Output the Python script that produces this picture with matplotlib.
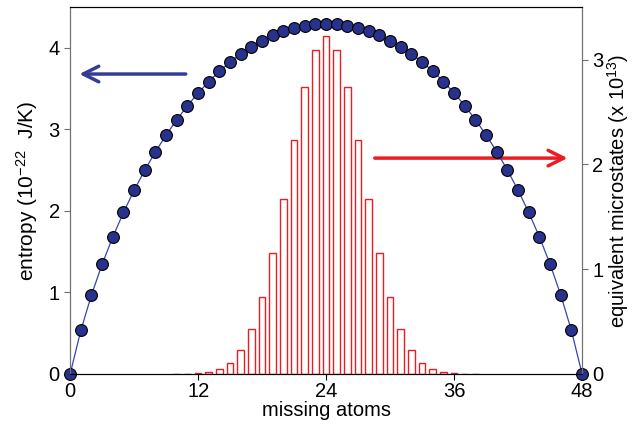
import matplotlib
matplotlib.use('Agg')
import matplotlib.pyplot as plt

plt.rcParams['font.family'] = ['Liberation Sans', 'DejaVu Sans']
plt.rcParams['mathtext.default'] = 'regular'

# atomi mancanti: 0..48
n_atoms = list(range(0, 49))

# entropia (10^-22 J/K), 0..24, poi simmetrica
entropy_half = [0.000, 0.534, 0.970, 1.347, 1.681, 1.982, 2.254, 2.501, 2.727,
                2.932, 3.120, 3.292, 3.447, 3.588, 3.714, 3.827, 3.927, 4.015,
                4.089, 4.153, 4.204, 4.243, 4.272, 4.289, 4.294]
entropy = entropy_half + entropy_half[-2::-1]

# microstati equivalenti (x 10^13), barre da 10 a 38
bar_n = list(range(10, 39))
micro_half = [0.0007, 0.0023, 0.0070, 0.0193, 0.0482, 0.1093, 0.2255, 0.4244,
              0.7310, 1.1542, 1.6736, 2.2314, 2.7386, 3.0958, 3.2248]
microstates = micro_half + micro_half[-2::-1]

blue_dot = '#28328c'
blue_line = '#3646b0'
red = '#ec1c24'

fig = plt.figure(figsize=(6.32, 4.24), dpi=100)
ax1 = fig.add_axes([0.111, 0.118, 0.810, 0.865])
ax2 = ax1.twinx()

# barre sull'asse destro
ax2.bar(bar_n, microstates, width=0.62, facecolor='white', edgecolor=red, linewidth=1.0)
ax2.set_ylim(0, 3.5)
ax2.set_yticks([0, 1, 2, 3])
ax2.set_ylabel('equivalent microstates (x 10$^{13}$)', fontsize=14.5, labelpad=1)

# entropia sull'asse sinistro
ax1.set_zorder(ax2.get_zorder() + 1)
ax1.patch.set_visible(False)
ax1.plot(n_atoms, entropy, color=blue_line, linewidth=0.9, marker='o', markersize=8.5,
         markerfacecolor=blue_dot, markeredgecolor='black', markeredgewidth=0.8, clip_on=False)
ax1.set_xlim(0, 48)
ax1.set_ylim(0, 4.5)
ax1.set_xticks([0, 12, 24, 36, 48])
ax1.set_yticks([0, 1, 2, 3, 4])
ax1.set_xlabel('missing atoms', fontsize=14.5, labelpad=0)
ax1.set_ylabel('entropy (10$^{-22}$  J/K)', fontsize=15, labelpad=6)

# frecce
ax1.annotate('', xy=(0.6, 3.68), xytext=(11.1, 3.68),
             arrowprops=dict(arrowstyle='->', color='#353c96', lw=2.5, mutation_scale=28))
ax2.annotate('', xy=(46.9, 2.06), xytext=(28.3, 2.06),
             arrowprops=dict(arrowstyle='->', color=red, lw=2.5, mutation_scale=28))

# assi
for ax in (ax1, ax2):
    ax.spines['left'].set_color('#707070')
    ax.spines['right'].set_color('#707070')
    ax.spines['top'].set_color('black')
    ax.spines['bottom'].set_color('black')
ax1.tick_params(axis='y', colors='#707070', labelcolor='black', labelsize=14.5, length=4)
ax2.tick_params(axis='y', colors='#707070', labelcolor='black', labelsize=14.5, length=4)
ax1.tick_params(axis='x', labelsize=14.5, length=4, pad=2)

fig.savefig('out.png', dpi=100)
